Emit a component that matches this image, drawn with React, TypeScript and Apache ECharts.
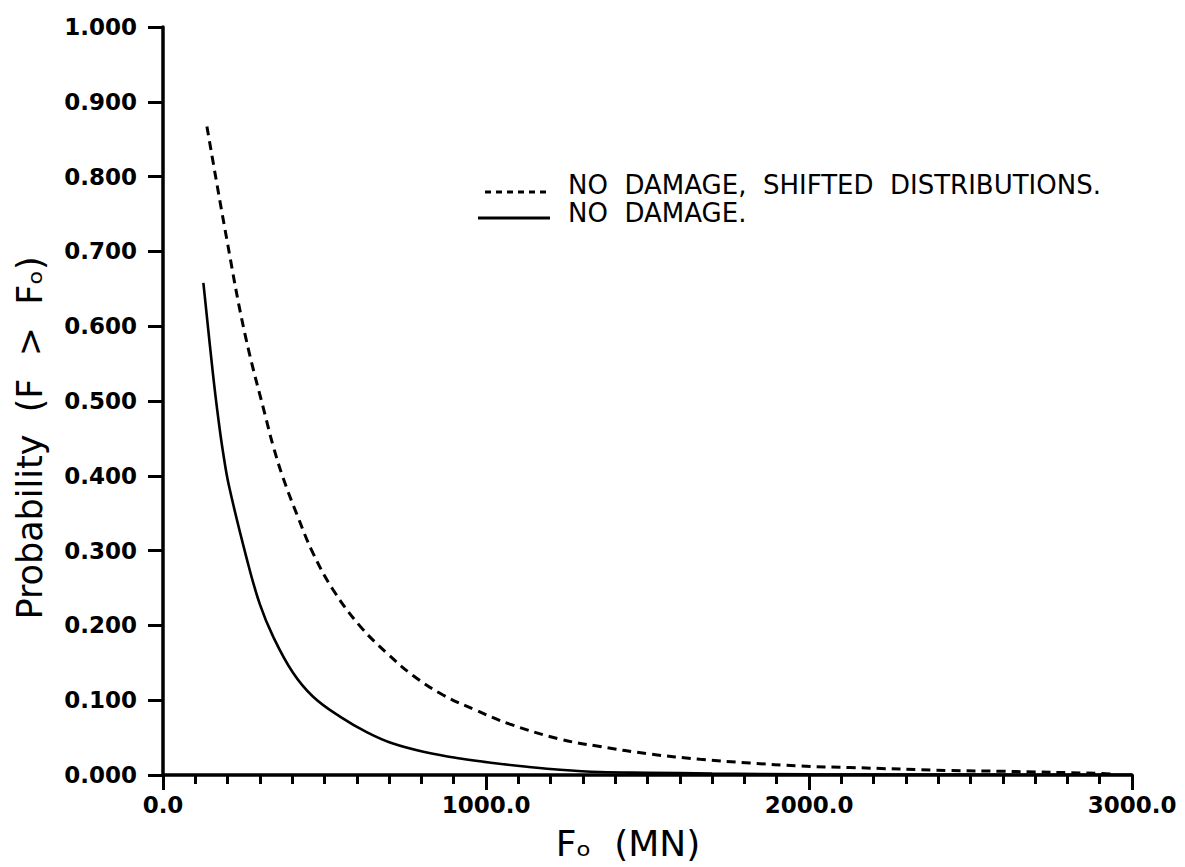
import React, { useEffect, useRef } from "react";
import * as echarts from "echarts";

// Solid curve: NO DAMAGE.
const solidF = [125, 155, 172, 185, 204, 260, 300, 341, 402, 464, 548, 632, 712, 817, 920, 1022, 1127, 1229, 1353, 1500, 1700, 2000, 2500, 3000];
const solidP = [0.658, 0.535, 0.474, 0.434, 0.387, 0.288, 0.228, 0.185, 0.137, 0.105, 0.078, 0.057, 0.042, 0.030, 0.022, 0.016, 0.011, 0.007, 0.004, 0.003, 0.002, 0.001, 0.0005, 0.0002];

// Dashed curve: NO DAMAGE, SHIFTED DISTRIBUTIONS.
const dashedF = [136, 198, 254, 321, 341, 372, 414, 464, 526, 610, 693, 774, 867, 972, 1074, 1229, 1353, 1508, 1663, 1817, 1972, 2127, 2437, 2594, 2907, 2950];
const dashedP = [0.867, 0.715, 0.589, 0.473, 0.440, 0.397, 0.349, 0.297, 0.248, 0.199, 0.163, 0.133, 0.107, 0.086, 0.068, 0.048, 0.038, 0.028, 0.021, 0.016, 0.012, 0.010, 0.006, 0.005, 0.002, 0.001];

const legendLabels = ["NO  DAMAGE,  SHIFTED  DISTRIBUTIONS.", "NO  DAMAGE."];
const xAxisTitle = "F\u2092  (MN)";
const yAxisTitle = "Probability  (F  >  F\u2092)";

const FONT = "DejaVu Sans";

export default function App() {
  const ref = useRef<HTMLDivElement>(null);
  useEffect(() => {
    const chart = echarts.init(ref.current as HTMLDivElement, null, { renderer: "svg" });
    const pair = (xs: number[], ys: number[]) => xs.map((x, i) => [x, ys[i]]);
    chart.setOption({
      animation: false,
      backgroundColor: "#ffffff",
      grid: { left: 163, right: 53, top: 27, bottom: 92, containLabel: false, outerBoundsMode: "none" },
      xAxis: {
        type: "value",
        min: 0,
        max: 3000,
        interval: 1000,
        axisLine: { show: true, onZero: false, lineStyle: { color: "#000", width: 3.5 } },
        axisTick: { show: true, inside: false, length: 15, lineStyle: { color: "#000", width: 3 } },
        minorTick: { show: true, splitNumber: 10, length: 9, lineStyle: { color: "#000", width: 3 } },
        axisLabel: {
          margin: 18,
          color: "#000",
          fontFamily: FONT,
          fontWeight: "bold",
          fontSize: 23,
          formatter: (v: number) => v.toFixed(1),
        },
        splitLine: { show: false },
        minorSplitLine: { show: false },
      },
      yAxis: {
        type: "value",
        min: 0,
        max: 1,
        interval: 0.1,
        axisLine: { show: true, onZero: false, lineStyle: { color: "#000", width: 3.5 } },
        axisTick: { show: true, inside: false, length: 15, lineStyle: { color: "#000", width: 3 } },
        axisLabel: {
          margin: 26,
          color: "#000",
          fontFamily: FONT,
          fontWeight: "bold",
          fontSize: 23,
          formatter: (v: number) => v.toFixed(3),
        },
        splitLine: { show: false },
      },
      series: [
        {
          name: legendLabels[0],
          type: "line",
          data: pair(dashedF, dashedP),
          showSymbol: false,
          smooth: 0.4,
          lineStyle: { color: "#000", width: 3, type: [9, 6] },
        },
        {
          name: legendLabels[1],
          type: "line",
          data: pair(solidF, solidP),
          showSymbol: false,
          smooth: 0.4,
          lineStyle: { color: "#000", width: 2.6, type: "solid" },
        },
      ],
      graphic: [
        {
          type: "line",
          shape: { x1: 485, y1: 192, x2: 550, y2: 192 },
          style: { stroke: "#000", lineWidth: 3, lineDash: [6, 5] },
        },
        {
          type: "line",
          shape: { x1: 478, y1: 218, x2: 550, y2: 218 },
          style: { stroke: "#000", lineWidth: 3 },
        },
        {
          type: "text",
          x: 568,
          y: 185,
          style: { text: legendLabels[0], fontFamily: FONT, fontSize: 26, fill: "#000", verticalAlign: "middle", align: "left" },
        },
        {
          type: "text",
          x: 568,
          y: 213,
          style: { text: legendLabels[1], fontFamily: FONT, fontSize: 26, fill: "#000", verticalAlign: "middle", align: "left" },
        },
        {
          type: "text",
          x: 628,
          y: 843,
          style: { text: xAxisTitle, fontFamily: FONT, fontSize: 36, fill: "#000", verticalAlign: "middle", align: "center" },
        },
        {
          type: "text",
          x: 30,
          y: 438,
          rotation: Math.PI / 2,
          style: { text: yAxisTitle, fontFamily: FONT, fontSize: 35, fill: "#000", verticalAlign: "middle", align: "center" },
        },
      ],
    });
    return () => chart.dispose();
  }, []);
  return <div ref={ref} style={{ position: "absolute", left: 0, top: 0, width: 1185, height: 867 }} />;
}
